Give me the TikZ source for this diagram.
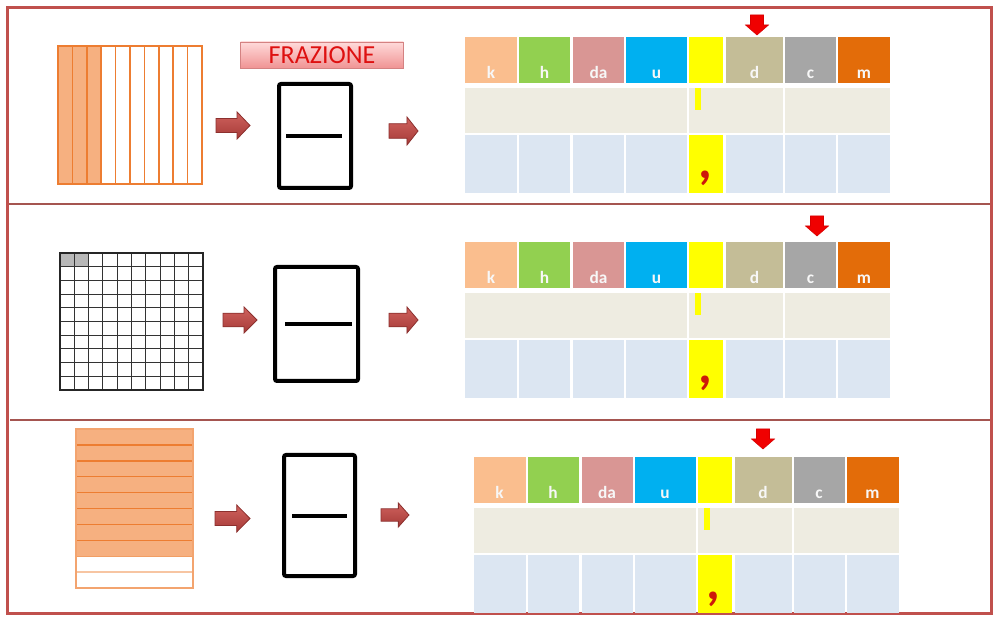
\documentclass[tikz,border=0pt]{standalone}
\usepackage{fontspec}
\setmainfont{Carlito}
\definecolor{frame}{RGB}{192,80,77}
\definecolor{sepc}{RGB}{165,85,80}
\definecolor{orS}{RGB}{237,125,49}
\definecolor{orF}{RGB}{246,176,128}
\definecolor{cK}{RGB}{250,190,142}
\definecolor{cH}{RGB}{146,208,80}
\definecolor{cDA}{RGB}{217,150,148}
\definecolor{cU}{RGB}{0,176,240}
\definecolor{cY}{RGB}{255,255,0}
\definecolor{cD}{RGB}{196,189,151}
\definecolor{cC}{RGB}{166,166,166}
\definecolor{cM}{RGB}{227,108,9}
\definecolor{rowtwo}{RGB}{238,236,225}
\definecolor{rowthree}{RGB}{220,230,242}
\definecolor{commaR}{RGB}{205,25,10}
\definecolor{titleR}{RGB}{222,16,16}
\tikzset{
  cell/.style={draw=none, inner sep=0pt, outer sep=0pt, rectangle},
  hdr/.style={font=\bfseries\fontsize{13}{13}\selectfont, text=white!94!gray, anchor=base, inner sep=0pt},
  commamark/.style={font=\bfseries\itshape\fontsize{40}{40}\selectfont, text=commaR, anchor=base, inner sep=0pt},
  barrow/.style={top color={rgb,255:red,208;green,98;blue,94}, bottom color={rgb,255:red,165;green,58;blue,55}, draw={rgb,255:red,140;green,48;blue,46}, line width=0.6pt},
  darrowst/.style={fill={rgb,255:red,240;green,0;blue,0}, draw={rgb,255:red,215;green,0;blue,0}, line width=0.4pt},
  fracbox/.style={draw=black, line width=3pt, rounded corners=1.5pt},
  fracline/.style={draw=black, line width=2.4pt},
  stripline/.style={draw=orS, line width=1.2pt},
  gridline/.style={draw=black!80, line width=0.75pt},
  titlebox/.style={top color={rgb,255:red,255;green,218;blue,218}, bottom color={rgb,255:red,240;green,148;blue,148}, draw={rgb,255:red,212;green,130;blue,130}, line width=0.6pt, minimum width=122pt, minimum height=19.5pt, inner sep=0pt, text=titleR, font=\fontsize{19.5}{19.5}\selectfont}
}
\newcommand\cellbox[6]{%
  \node[cell, fill=#6, minimum width={(#3-(#2))*0.75pt}, minimum height={(#5-(#4))*0.75pt}] (#1) at ({((#2)+(#3))/2},{((#4)+(#5))/2}) {};}
\newcommand\ptable[3]{% prefix, dx, ytop
  \foreach \nm/\xa/\xb/\col/\lab in {k/465/517/cK/k, h/519/570/cH/h, a/573/624/cDA/da, u/626/687/cU/u, y/689/723/cY/{}, d/726/783/cD/d, c/785/836/cC/c, m/838/890/cM/m}{
    \cellbox{#1-\nm}{\xa+#2}{\xb+#2}{#3}{#3+46}{\col}
    \node[hdr] (#1-\nm-t) at ([yshift=3.6pt]#1-\nm.south) {\lab};
    \cellbox{#1-\nm3}{\xa+#2}{\xb+#2}{#3+98}{#3+156}{rowthree}
  }
  \cellbox{#1-y3}{689+#2}{723+#2}{#3+98}{#3+156}{cY}
  \cellbox{#1-r2a}{465+#2}{687+#2}{#3+51}{#3+96}{rowtwo}
  \cellbox{#1-r2b}{689+#2}{783+#2}{#3+51}{#3+96}{rowtwo}
  \cellbox{#1-r2c}{785+#2}{890+#2}{#3+51}{#3+96}{rowtwo}
  \fill[cY] (695+#2,#3+51) rectangle (701+#2,#3+73);
  \node[commamark] (#1-comma) at (706+#2,#3+142) {,};
}
\newcommand\barrowdraw[4]{% x1 x2 yc H
  \path[barrow] ({#1},{#3-0.26*#4}) -- ({#1+0.62*(#2-#1)},{#3-0.26*#4}) -- ({#1+0.62*(#2-#1)},{#3-0.5*#4})
    -- ({#2},{#3}) -- ({#1+0.62*(#2-#1)},{#3+0.5*#4}) -- ({#1+0.62*(#2-#1)},{#3+0.26*#4}) -- ({#1},{#3+0.26*#4}) -- cycle;}
\newcommand\darrowdraw[2]{% xc ytop
  \path[darrowst] ({#1-6.5},{#2}) -- ({#1+6.5},{#2}) -- ({#1+6.5},{#2+10}) -- ({#1+11.5},{#2+10}) -- ({#1},{#2+20})
    -- ({#1-11.5},{#2+10}) -- ({#1-6.5},{#2+10}) -- cycle;}
\begin{document}
\begin{tikzpicture}[x=0.75pt, y=-0.75pt]
\useasboundingbox (0,0) rectangle (1000,623);
\fill[white] (0,0) rectangle (1000,623);
% frame and separators
\draw[frame, line width=2.25pt] (7.5,7.5) rectangle (991.5,613);
\draw[sepc, line width=0.9pt] (9,204) -- (990,204);
\draw[sepc, line width=0.9pt] (10,420) -- (990,420);

% ===== panel 1 =====
\fill[orF] (58,46) rectangle (101.2,184);
\foreach \i in {1,...,9} \draw[stripline] ({58+14.4*\i},46) -- ({58+14.4*\i},184);
\draw[stripline] (58,46) rectangle (202,184);
\node[titlebox] (title) at (322,55) {FRAZIONE};
\barrowdraw{216}{250}{125.5}{27}
\draw[fracbox] (279,84) rectangle (351,188);
\draw[fracline] (286,136) -- (342,136);
\barrowdraw{389}{418}{131}{28}
\ptable{t1}{0}{37}
\darrowdraw{757}{15}

% ===== panel 2 =====
\fill[black!28] (60,253) rectangle (88.6,266.7);
\foreach \i in {1,...,9} {
  \draw[gridline] ({60+14.3*\i},253) -- ({60+14.3*\i},390);
  \draw[gridline] (60,{253+13.7*\i}) -- (203,{253+13.7*\i});
}
\draw[black!85, line width=1.5pt] (60,253) rectangle (203,390);
\barrowdraw{223}{257}{320}{26}
\draw[fracbox] (275,267) rectangle (358,381);
\draw[fracline] (285,324) -- (352,324);
\barrowdraw{389}{418}{320}{26}
\ptable{t2}{0}{242}
\darrowdraw{817}{216}

% ===== panel 3 =====
\fill[orF] (76,429) rectangle (193,556.2);
\foreach \i in {1,...,7} \draw[stripline] (76,{429+15.9*\i}) -- (193,{429+15.9*\i});
\draw[orS!75, line width=1pt] (76,556.2) -- (193,556.2);
\draw[orS!45, line width=1pt] (76,572.1) -- (193,572.1);
\draw[orS!70, line width=1pt] (76,429) rectangle (193,588);
\barrowdraw{215}{250}{518.5}{27}
\draw[fracbox] (284,455) rectangle (355,576);
\draw[fracline] (292,516) -- (347,516);
\barrowdraw{381}{409}{515}{24}
\ptable{t3}{8.5}{457}
\darrowdraw{763}{429}
\end{tikzpicture}
\end{document}
